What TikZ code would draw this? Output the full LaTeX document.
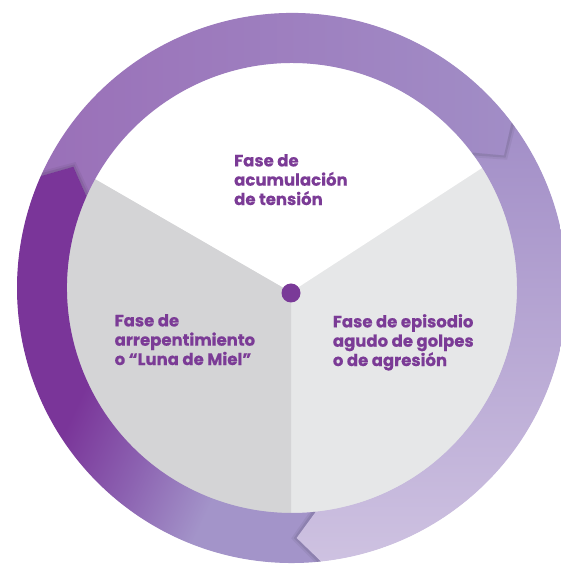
\documentclass[tikz,border=0pt]{standalone}
\usepackage{fontspec}
\newfontfamily\labfont{Poppins}[BoldFeatures={FakeBold=0.5}]
\usetikzlibrary{calc}
\definecolor{txtpurple}{HTML}{7B3B96}
\definecolor{dotpurple}{HTML}{7A3A98}
\definecolor{greyL}{HTML}{D4D4D6}
\definecolor{greyR}{HTML}{E6E7E8}
\definecolor{ringbase}{HTML}{A08BC5}
\definecolor{topA}{HTML}{9A70B8}
\definecolor{topB}{HTML}{A18DC6}
\definecolor{rightA}{HTML}{A28EC7}
\definecolor{rightB}{HTML}{CEC2E1}
\definecolor{leftA}{HTML}{7A3599}
\definecolor{leftM}{HTML}{8C62B1}
\definecolor{leftB}{HTML}{A394C9}
\pgfdeclarehorizontalshading{leftshade}{100bp}{color(0bp)=(leftA); color(40bp)=(leftA); color(52bp)=(leftM); color(64bp)=(leftB); color(100bp)=(leftB)}
\newcommand\segpath[2]{(#1:275) arc[start angle=#1, end angle=#2, radius=275] -- ({#2-5}:250) -- (#2:225) arc[start angle=#2, end angle=#1, radius=225] -- ({#1-5}:250) -- cycle}
\newcommand\chevron[1]{(#1:276) -- ({#1-5}:250) -- (#1:224)}
\tikzset{
  lab/.style={font=\labfont\bfseries\fontsize{16.5}{19.3}\selectfont, text=txtpurple, align=left, inner sep=0pt, anchor=north west},
  headshadow/.style={draw=black, line join=miter}
}
\begin{document}
\begin{tikzpicture}[x=1pt,y=1pt]
\useasboundingbox (0,0) rectangle (561,565);
\clip (0,0) rectangle (561,565);
\fill[white] (0,0) rectangle (561,565);
\coordinate (c) at (292,277);
\coordinate (apex) at (291,273);
% inner disk with three sectors
\begin{scope}
  \clip (c) circle[radius=227];
  \fill[greyR] (c) circle[radius=227];
  \fill[greyL] (apex) -- ($(apex)+(150:500)$) -- ($(apex)+(210:500)$) -- ($(apex)+(270:500)$) -- cycle;
  \fill[white] (apex) -- ($(apex)+(33:500)$) -- ($(apex)+(90:500)$) -- ($(apex)+(150:500)$) -- cycle;
\end{scope}
% ring of three arrows
\begin{scope}[shift={(c)}]
  \fill[ringbase, even odd rule] (0,0) circle[radius=274.5] (0,0) circle[radius=225.5];
  \shade[left color=topA, right color=topB] \segpath{156}{37};
  \shade[top color=rightA, bottom color=rightB] \segpath{37}{-84};
  \shade[shading=leftshade, shading angle=-25] \segpath{276}{156};
  % soft shadows under the arrow heads
  \begin{scope}
    \clip \segpath{37}{-84};
    \draw[headshadow, opacity=0.05, line width=8] \chevron{37};
    \draw[headshadow, opacity=0.08, line width=4] \chevron{37};
  \end{scope}
  \begin{scope}
    \clip \segpath{276}{156};
    \draw[headshadow, opacity=0.05, line width=8] \chevron{-84};
    \draw[headshadow, opacity=0.08, line width=4] \chevron{-84};
  \end{scope}
  \begin{scope}
    \clip \segpath{156}{37};
    \draw[headshadow, opacity=0.05, line width=8] \chevron{156};
    \draw[headshadow, opacity=0.08, line width=4] \chevron{156};
  \end{scope}
\end{scope}
% centre dot
\node[circle, fill=dotpurple, minimum size=19pt, inner sep=0pt] (dot) at (291,272) {};
% labels
\node[lab] (tension) at (234,411) {Fase de\\acumulación\\de tensión};
\node[lab] (miel) at (114.5,251) {Fase de\\arrepentimiento\\o “Luna de Miel”};
\node[lab] (agresion) at (332.7,251) {Fase de episodio\\agudo de golpes\\o de agresión};
\end{tikzpicture}
\end{document}
